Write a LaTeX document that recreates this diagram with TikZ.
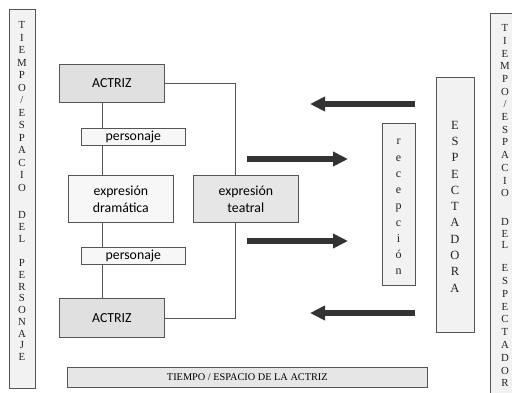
\documentclass[tikz,border=0pt]{standalone}
\usepackage{fontspec}
\setmainfont{Liberation Serif}
\newfontfamily\calib{Carlito}
\usetikzlibrary{arrows.meta}
\definecolor{edgec}{HTML}{555555}
\definecolor{darkfill}{HTML}{E0E0E0}
\definecolor{midfill}{HTML}{E6E6E6}
\definecolor{lightfill}{HTML}{F7F7F7}
\definecolor{sidefill}{HTML}{F2F2F2}
\definecolor{arrowc}{HTML}{333333}
\definecolor{textc}{HTML}{222222}
\begin{document}
\begin{tikzpicture}[x=1pt,y=-1pt,
  box/.style={draw=edgec, line width=0.7pt, inner sep=0pt, anchor=north west},
  sansbox/.style={box, font=\calib\fontsize{13.8}{17}\selectfont, align=center},
  serifbox/.style={box, font=\fontsize{10.3}{12}\selectfont},
  sideletter/.style={inner sep=0pt, anchor=base, text=textc, font=\fontsize{10.8}{12}\selectfont},
  bigletter/.style={inner sep=0pt, anchor=base, text=textc, font=\fontsize{12.5}{14}\selectfont},
  smallletter/.style={inner sep=0pt, anchor=base, text=textc, font=\fontsize{12}{14}\selectfont},
  link/.style={draw=edgec, line width=0.7pt},
  bigarrow/.style={draw=arrowc, line width=6.5pt, -{Triangle[length=15pt,width=14pt]}}]
\useasboundingbox (0,0) rectangle (512,392);
% side boxes
\node[box, fill=sidefill, minimum width=26pt, minimum height=379pt] (leftside) at (9,9) {};
\node[box, fill=sidefill, minimum width=32pt, minimum height=390pt] (rightside) at (490,13) {};
% left column text
\foreach \l [count=\i from 0] in {T,I,E,M,P,O,/,E,S,P,A,C,I,O}
  \node[sideletter] (la\i) at (22,{28.6+12.5*\i}) {\l};
\foreach \l [count=\i from 0] in {D,E,L}
  \node[sideletter] (lb\i) at (22,{218.6+11.7*\i}) {\l};
\foreach \l [count=\i from 0] in {P,E,R,S,O,N,A,J,E}
  \node[sideletter] (lc\i) at (22,{266.6+11.75*\i}) {\l};
% right column text
\foreach \l [count=\i from 0] in {T,I,E,M,P,O,/,E,S,P,A,C,I,O}
  \node[sideletter] (ra\i) at (505,{31.6+12.7*\i}) {\l};
\foreach \l [count=\i from 0] in {D,E,L}
  \node[sideletter] (rb\i) at (505,{225.6+11.6*\i}) {\l};
\foreach \l [count=\i from 0] in {E,S,P,E,C,T,A,D,O,R}
  \node[sideletter] (rc\i) at (505,{271.6+12.8*\i}) {\l};
% left column
\node[sansbox, fill=darkfill, minimum width=105pt, minimum height=38pt] (actA) at (59,64) {ACTRIZ};
\node[sansbox, fill=lightfill, minimum width=104pt, minimum height=17pt] (persA) at (81,128) {personaje};
\node[sansbox, fill=lightfill, minimum width=105pt, minimum height=47pt] (dram) at (68,175) {expresión\\dramática};
\node[sansbox, fill=midfill, minimum width=105pt, minimum height=47pt] (teat) at (193,175) {expresión\\teatral};
\node[sansbox, fill=lightfill, minimum width=104pt, minimum height=17pt] (persB) at (81,247) {personaje};
\node[sansbox, fill=darkfill, minimum width=105pt, minimum height=39pt] (actB) at (59,298) {ACTRIZ};
\node[serifbox, fill=midfill, minimum width=360pt, minimum height=20pt] (bottom) at (67,367) {TIEMPO / ESPACIO DE LA ACTRIZ};
% right column
\node[box, fill=sidefill, minimum width=33pt, minimum height=162pt] (recep) at (382,123) {};
\foreach \l [count=\i from 0] in {r,e,c,e,p,c,i,ó,n}
  \node[smallletter] (rp\i) at (398.5,{144.8+16.25*\i}) {\l};
\node[box, fill=sidefill, minimum width=38pt, minimum height=255pt] (espec) at (436,77) {};
\foreach \l [count=\i from 0] in {E,S,P,E,C,T,A,D,O,R,A}
  \node[bigletter] (es\i) at (455,{129.1+16.3*\i}) {\l};
% connectors
\draw[link] (actA.south -| 102,0) -- (persA.north -| 102,0);
\draw[link] (persA.south -| 102,0) -- (dram.north -| 102,0);
\draw[link] (dram.south -| 102,0) -- (persB.north -| 102,0);
\draw[link] (persB.south -| 102,0) -- (actB.north -| 102,0);
\draw[link] (actA.east) -| (teat.north -| 235,0);
\draw[link] (teat.south -| 235,0) |- (actB.east);
% arrows
\coordinate (a1s) at (415,104); \coordinate (a1e) at (310,104);
\coordinate (a2s) at (247,159); \coordinate (a2e) at (348,159);
\coordinate (a3s) at (247,241); \coordinate (a3e) at (348,241);
\coordinate (a4s) at (415,313); \coordinate (a4e) at (310,313);
\draw[bigarrow] (a1s) -- (a1e);
\draw[bigarrow] (a2s) -- (a2e);
\draw[bigarrow] (a3s) -- (a3e);
\draw[bigarrow] (a4s) -- (a4e);
\end{tikzpicture}
\end{document}
